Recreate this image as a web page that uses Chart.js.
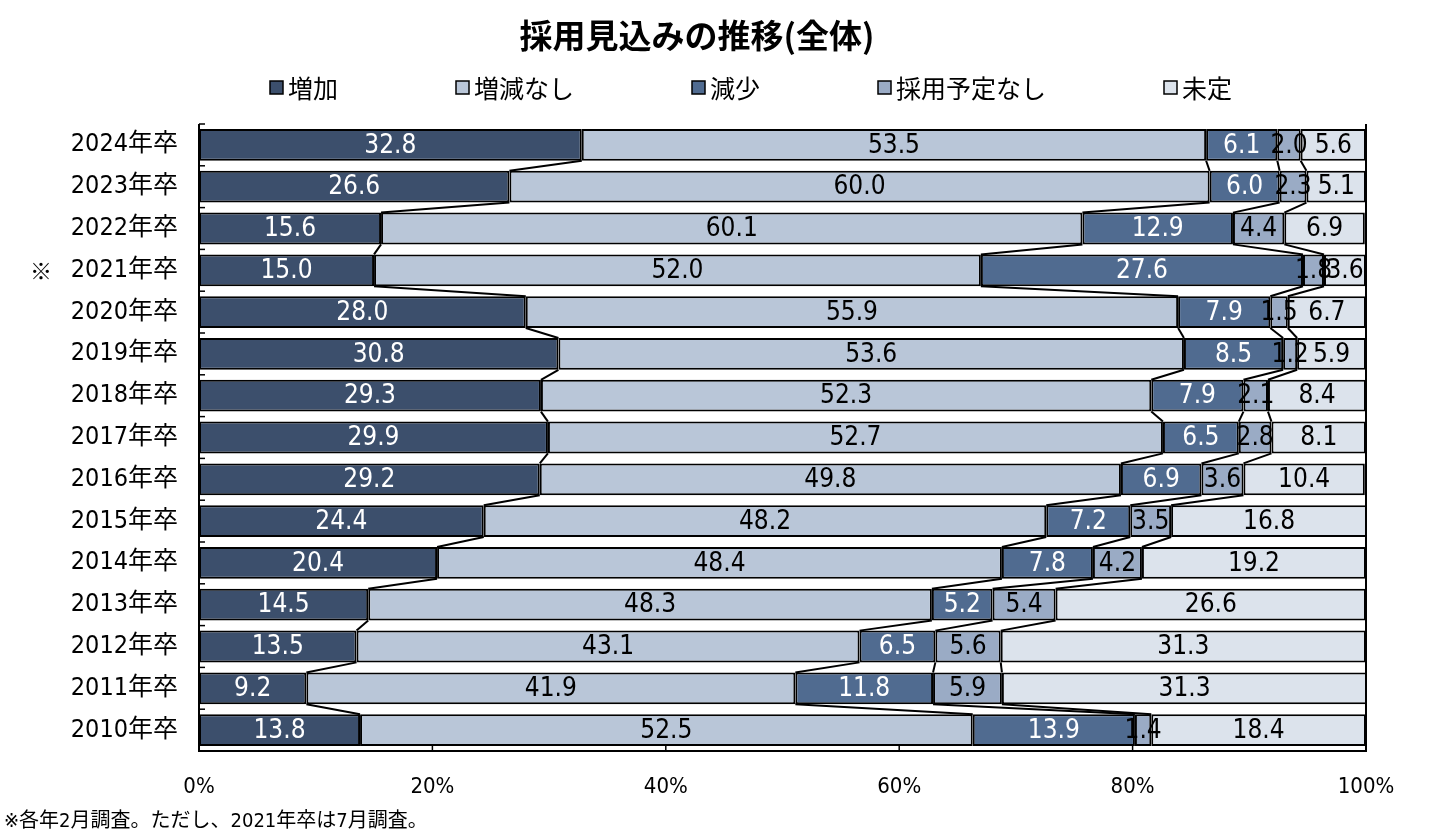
<!DOCTYPE html>
<html>
<head>
<meta charset="utf-8">
<script src="https://cdn.jsdelivr.net/npm/chart.js@4.4.1/dist/chart.umd.min.js"></script>
<style>
  body { margin: 0; background: #fff; }
  canvas { display: block; }
</style>
</head>
<body>
<canvas id="hiringChart" width="1438" height="838"></canvas>
<script>
    // Data (percent, top row first)
    const years = ['2024年卒','2023年卒','2022年卒','2021年卒','2020年卒','2019年卒','2018年卒','2017年卒','2016年卒','2015年卒','2014年卒','2013年卒','2012年卒','2011年卒','2010年卒'];
    const increase  = [32.8, 26.6, 15.6, 15.0, 28.0, 30.8, 29.3, 29.9, 29.2, 24.4, 20.4, 14.5, 13.5,  9.2, 13.8];
    const noChange  = [53.5, 60.0, 60.1, 52.0, 55.9, 53.6, 52.3, 52.7, 49.8, 48.2, 48.4, 48.3, 43.1, 41.9, 52.5];
    const decrease  = [ 6.1,  6.0, 12.9, 27.6,  7.9,  8.5,  7.9,  6.5,  6.9,  7.2,  7.8,  5.2,  6.5, 11.8, 13.9];
    const noPlan    = [ 2.0,  2.3,  4.4,  1.8,  1.5,  1.2,  2.1,  2.8,  3.6,  3.5,  4.2,  5.4,  5.6,  5.9,  1.4];
    const undecided = [ 5.6,  5.1,  6.9,  3.6,  6.7,  5.9,  8.4,  8.1, 10.4, 16.8, 19.2, 26.6, 31.3, 31.3, 18.4];
    const seriesNames = ['増加', '増減なし', '減少', '採用予定なし', '未定'];
    const xTicks = [0, 20, 40, 60, 80, 100];

    const seriesColors = ['#3c4f6c', '#b9c6d8', '#506b90', '#9aabc5', '#dce3ec'];
    const labelColors = ['#ffffff', '#000000', '#ffffff', '#000000', '#000000'];
    const NARROW = '"DejaVu Sans Condensed", "Liberation Sans", "Noto Sans CJK JP", sans-serif';
    const JP = '"Noto Sans CJK JP", sans-serif';

    // series lines, value labels, axis frame, title, legend and note
    const decorations = {
      id: 'decorations',
      afterDatasetsDraw(chart) {
        const { ctx, chartArea: a, scales: { x, y } } = chart;
        ctx.save();

        // connecting lines between stacked boundaries of neighbouring bars
        ctx.strokeStyle = '#000';
        ctx.lineWidth = 2;
        for (let d = 0; d < 4; d++) {
          const bars = chart.getDatasetMeta(d).data;
          for (let i = 0; i < bars.length - 1; i++) {
            const p = bars[i], q = bars[i + 1];
            ctx.beginPath();
            ctx.moveTo(p.x, p.y + p.height / 2);
            ctx.lineTo(q.x, q.y - q.height / 2);
            ctx.stroke();
          }
        }

        // value labels
        ctx.font = '26px ' + NARROW;
        ctx.textAlign = 'center';
        ctx.textBaseline = 'middle';
        chart.data.datasets.forEach((ds, d) => {
          chart.getDatasetMeta(d).data.forEach((bar, i) => {
            ctx.fillStyle = labelColors[d];
            ctx.fillText(ds.data[i].toFixed(1), (bar.x + bar.base) / 2, bar.y + 1);
          });
        });

        // frame: left, bottom and right lines
        ctx.lineWidth = 2;
        ctx.beginPath();
        ctx.moveTo(a.left, a.top);
        ctx.lineTo(a.left, a.bottom);
        ctx.lineTo(a.right, a.bottom);
        ctx.lineTo(a.right, a.top);
        ctx.stroke();

        // inward tick marks
        ctx.lineWidth = 1.5;
        const step = (a.bottom - a.top) / years.length;
        for (let k = 0; k <= years.length; k++) {
          const yy = a.top + k * step;
          ctx.beginPath();
          ctx.moveTo(a.left, yy);
          ctx.lineTo(a.left + 6, yy);
          ctx.stroke();
        }
        xTicks.forEach(v => {
          const px = x.getPixelForValue(v);
          ctx.beginPath();
          ctx.moveTo(px, a.bottom);
          ctx.lineTo(px, a.bottom - 7);
          ctx.stroke();
        });

        // ※ mark for 2021
        ctx.fillStyle = '#000';
        ctx.font = '22px ' + JP;
        ctx.fillText('※', 41, y.getPixelForValue(years.indexOf('2021年卒')));

        // title
        ctx.font = 'bold 33px ' + JP;
        ctx.fillText('採用見込みの推移(全体)', 697, 35);

        // legend
        ctx.font = '25px ' + JP;
        ctx.textAlign = 'left';
        let lx = 270;
        seriesNames.forEach((name, d) => {
          ctx.fillStyle = seriesColors[d];
          ctx.fillRect(lx, 81, 13, 13);
          ctx.strokeStyle = '#000';
          ctx.lineWidth = 1.5;
          ctx.strokeRect(lx, 81, 13, 13);
          ctx.fillStyle = '#000';
          ctx.fillText(name, lx + 18, 88);
          lx += 18 + ctx.measureText(name).width + 118;
        });

        // footnote
        ctx.font = '20px ' + NARROW;
        ctx.fillText('※各年2月調査。ただし、2021年卒は7月調査。', 4, 822);

        ctx.restore();
      }
    };

    const seriesData = [increase, noChange, decrease, noPlan, undecided];

    const ctx = document.getElementById('hiringChart').getContext('2d');
    new Chart(ctx, {
      type: 'bar',
      data: {
        labels: years,
        datasets: seriesData.map((data, d) => ({
          label: seriesNames[d],
          data: data,
          backgroundColor: seriesColors[d],
          borderColor: '#000',
          borderWidth: 2,
          borderSkipped: false,
          barPercentage: 0.76,
          categoryPercentage: 1
        }))
      },
      options: {
        indexAxis: 'y',
        responsive: false,
        animation: false,
        devicePixelRatio: 1,
        layout: { padding: { top: 124, right: 72, bottom: 0, left: 0 } },
        plugins: {
          legend: { display: false },
          title: { display: false },
          tooltip: { enabled: false }
        },
        scales: {
          x: {
            stacked: true,
            min: 0,
            max: 100,
            grid: { display: false },
            border: { display: false },
            afterBuildTicks: scale => { scale.ticks = xTicks.map(v => ({ value: v })); },
            afterFit: scale => { scale.height = 87; },
            ticks: {
              padding: 15,
              color: '#000',
              font: { family: NARROW, size: 22 },
              callback: v => v + '%'
            }
          },
          y: {
            stacked: true,
            grid: { display: false, drawTicks: false },
            border: { display: false },
            afterFit: scale => { scale.width = 199; },
            ticks: {
              padding: 21,
              color: '#000',
              font: { family: NARROW, size: 25 }
            }
          }
        }
      },
      plugins: [decorations]
    });
</script>
</body>
</html>
